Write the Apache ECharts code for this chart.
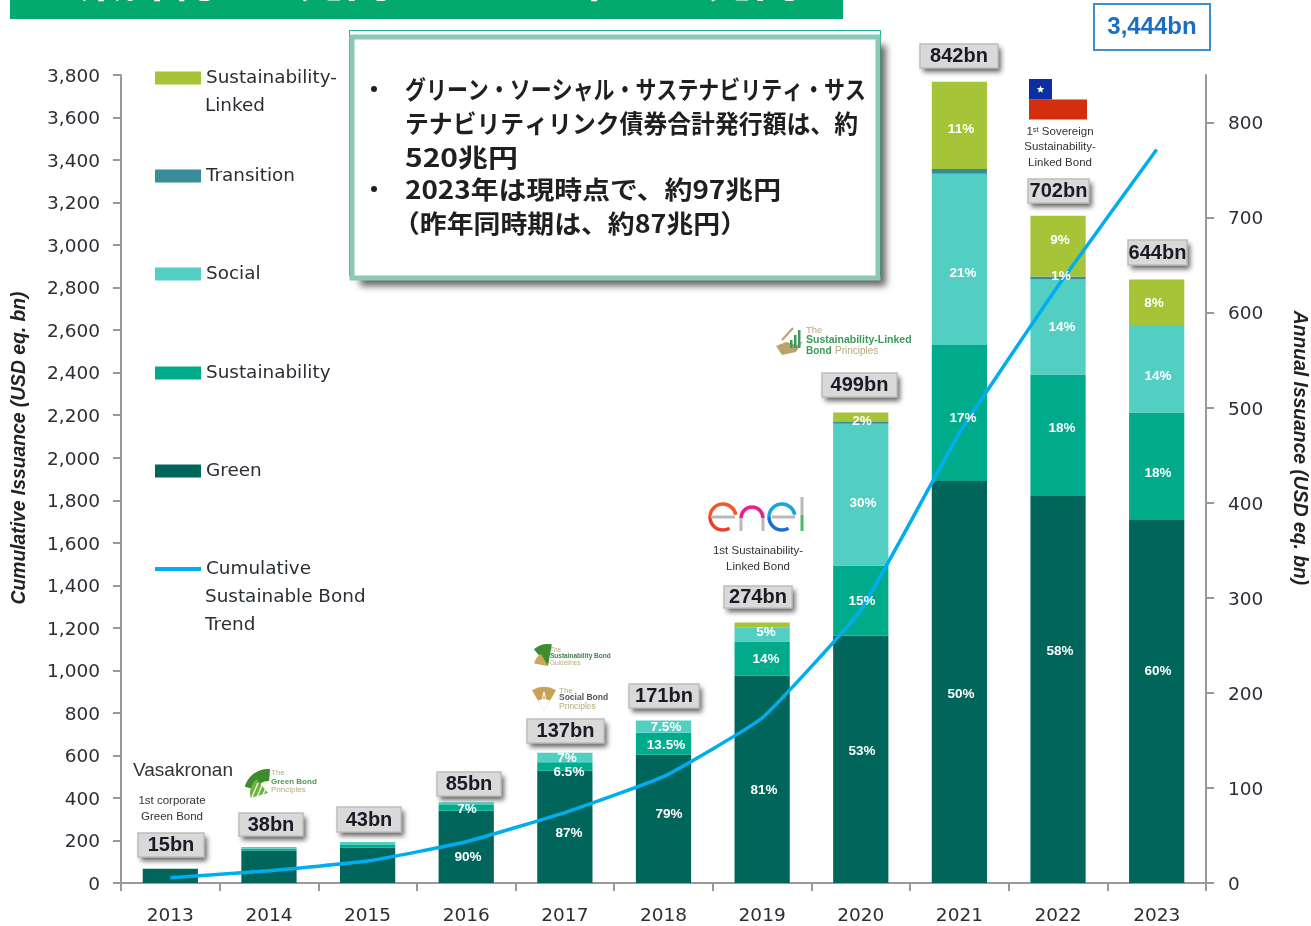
<!DOCTYPE html>
<html><head><meta charset="utf-8">
<style>html,body{margin:0;padding:0;background:#fff}#c{width:1311px;height:926px}</style>
<script src="https://cdn.jsdelivr.net/npm/echarts@6/dist/echarts.min.js"></script>
</head><body><div id="c"></div>
<script>
const years = ['2013','2014','2015','2016','2017','2018','2019','2020','2021','2022','2023'];
const green          = [15, 34, 37, 76, 118, 135, 218, 260, 423, 407, 382];
const sustainability = [0,  2,  3,  6,  9,   23,  36,  74,  143, 128, 113];
const social         = [0,  2,  3,  3,  10,  13,  15,  149, 180, 100, 92];
const transition     = [0,  0,  0,  0,  0,   0,   0,   2,   5,   3,   0];
const sustainabilityLinked = [0, 0, 0, 0, 0, 0, 5, 10, 92, 64, 48];
const cumulative = [25, 58, 103, 194, 331, 500, 776, 1284, 2116, 2808, 3450];
const leftTicks = [0,200,400,600,800,1000,1200,1400,1600,1800,2000,2200,2400,2600,2800,3000,3200,3400,3600,3800];
const rightTicks = [0,100,200,300,400,500,600,700,800];

const colors = {green:'#00665C', sust:'#00AB8C', social:'#52CEC3', trans:'#3A8C9A', sll:'#A5C437', line:'#00AEEF'};
const AXC='#999999', TXT='#2a2f35';
const SANS='"Liberation Sans", Arial, sans-serif', DJ='"DejaVu Sans", sans-serif', JP='"Noto Sans CJK JP", sans-serif';

// annotation tables: [text, x, y]
const pctLabels = [['90%',468,857],['7%',467,809],['87%',569,833],['6.5%',569,772],['7%',567,758],['79%',669,814],
 ['13.5%',666,745],['7.5%',666,727],['81%',764,790],['14%',766,659],['5%',766,632],['53%',862,751],['15%',862,601],
 ['30%',863,503],['2%',862,421],['50%',961,694],['17%',963,418],['21%',963,273],['11%',961,129],['58%',1060,651],
 ['18%',1062,428],['14%',1062,327],['1%',1061,276],['9%',1060,240],['60%',1158,671],['18%',1158,473],['14%',1158,376],['8%',1154,303]];
// [text, x0, y0, x1, y1]
const totalBoxes = [['15bn',138,833,204,857],['38bn',239,813,303,836],['43bn',337,807,401,832],['85bn',437,772,501,796],
 ['137bn',527,719,604,743],['171bn',629,684,699,708],['274bn',724,586,792,608],['499bn',822,373,897,397],
 ['842bn',920,44,998,68],['702bn',1028,179,1089,203],['644bn',1128,240,1187,265]];
// [text, x, y, size, colour, weight]
const notes = [
 ['Vasakronan',183,771,19,'#333','normal'],['1st corporate',172,801,11.5,'#333','normal'],['Green Bond',172,817,11.5,'#333','normal'],
 ['1st Sustainability-',758,551,11.5,'#333','normal'],['Linked Bond',758,567,11.5,'#333','normal'],
 ['Sustainability-',1060,147,11.5,'#333','normal'],['Linked Bond',1060,163,11.5,'#333','normal']];
// [text, x, y, size, colour, weight]
const logoText = [
 ['The',271,773,8,'#b9aa7c','normal'],['Green Bond',271,782,8,'#4d9a4f','bold'],['Principles',271,790,8,'#b9aa7c','normal'],
 ['The',550,650,6.5,'#b9aa7c','normal'],['Sustainability Bond',550,656,6.5,'#3f7f50','bold'],['Guidelines',550,663,6.5,'#b9aa7c','normal'],
 ['The',559,691,8,'#b9aa7c','normal'],['Social Bond',559,698,8.5,'#555','bold'],['Principles',559,707,8.5,'#b9aa7c','normal'],
 ['The',806,330,9.5,'#b9aa7c','normal'],['Sustainability-Linked',806,340,10.5,'#3c9a5a','bold'],['Bond',806,351,10,'#3c9a5a','bold'],['Principles',835,351,10,'#b9aa7c','normal']];
// [text, x, y, target width]
const boxLines = [['グリーン・ソーシャル・サステナビリティ・サス',405,89,461],['テナビリティリンク債券合計発行額は、約',405,123,453],
 ['520兆円',405,157,113],['2023年は現時点で、約97兆円',405,189,376],['（昨年同時期は、約87兆円）',393,223,354]];

const g = [];
const mc=document.createElement('canvas').getContext('2d');
const fitScale=(t,font,w)=>{mc.font=font;return w/mc.measureText(t).width;};
const txt=(z,x,y,text,fill,font,align,extra)=>Object.assign({type:'text',z,x,y,style:{text,fill,font,align:align||'left',verticalAlign:'middle'}},extra||{});
// banner
g.push({type:'rect',z:100,shape:{x:10,y:-5,width:833,height:24},style:{fill:'#03A96F'}});
const titleText='累計約520兆円 ー 2022年 122兆円', titleFont='bold 40px '+JP;
g.push({type:'text',z:101,x:78,y:2,scaleX:fitScale(titleText,titleFont,722),style:{text:titleText,fill:'#fff',font:titleFont,align:'left',verticalAlign:'bottom'}});
// message box
g.push({type:'rect',z:100,shape:{x:349.5,y:30.5,width:531,height:245},style:{fill:'#fff',stroke:'#19B394',lineWidth:1}});
g.push({type:'rect',z:100,shape:{x:352,y:37,width:526,height:241},style:{fill:'#fff',shadowBlur:7,shadowColor:'rgba(0,0,0,.6)',shadowOffsetX:8,shadowOffsetY:8}});
g.push({type:'rect',z:101,shape:{x:352,y:37,width:526,height:241},style:{fill:'#fff',stroke:'#8AC9B8',lineWidth:5}});
const bf='bold 25px '+JP;
boxLines.forEach(l=>g.push(txt(102,l[1],l[2],l[0],'#1f1f1f',bf,'left',{scaleX:fitScale(l[0],bf,l[3])})));
[89,189].forEach(y=>g.push({type:'circle',z:102,shape:{cx:374,cy:y,r:3},style:{fill:'#1f1f1f'}}));
// legend continuation lines
[['Linked',205,106],['Sustainable Bond',205,597],['Trend',205,625]].forEach(l=>g.push(txt(100,l[1],l[2],l[0],TXT,'18.4px '+DJ)));
// total boxes
totalBoxes.forEach(b=>{
  const shape={x:b[1],y:b[2],width:b[3]-b[1],height:b[4]-b[2]};
  g.push({type:'rect',z:103,shape,style:{fill:'#D9D9D9',shadowBlur:5,shadowColor:'rgba(0,0,0,.6)',shadowOffsetX:3,shadowOffsetY:4}});
  g.push({type:'rect',z:103,shape,style:{fill:'#D9D9D9',stroke:'#BDBDBD',lineWidth:1.5}});
  g.push(txt(104,(b[1]+b[3])/2,(b[2]+b[4])/2+.5,b[0],'#1a1a26','bold 20px '+SANS,'center'));
});
// cumulative total box
g.push({type:'rect',z:103,shape:{x:1094,y:4,width:116,height:46},style:{fill:'#fff',stroke:'#3D8FD1',lineWidth:2}});
g.push(txt(104,1152,27,'3,444bn','#1B6FC2','bold 24px '+SANS,'center'));
// percent labels
pctLabels.forEach(p=>g.push(txt(105,p[1],p[2],p[0],'#fff','bold 13.5px '+SANS,'center')));
// notes
notes.forEach(n=>g.push(txt(106,n[1],n[2],n[0],n[4],n[5]+' '+n[3]+'px '+SANS,'center')));
logoText.forEach(n=>g.push(txt(106,n[1],n[2],n[0],n[4],n[5]+' '+n[3]+'px '+SANS,'left')));
g.push({type:'text',z:106,x:1060,y:132,style:{text:'{a|1}{s|st}{a| Sovereign}',rich:{a:{font:'11.5px '+SANS,fill:'#333'},s:{font:'7.5px '+SANS,fill:'#333',verticalAlign:'top',padding:[0,0,4,0]}},align:'center',verticalAlign:'middle'}});
// Chile flag
g.push({type:'rect',z:106,shape:{x:1029,y:99.5,width:58,height:20},style:{fill:'#D32F0E'}});
g.push({type:'rect',z:106,shape:{x:1029,y:79,width:23,height:20.5},style:{fill:'#0B2FA0'}});
const starPts=[];for(let i=0;i<10;i++){const r=i%2?1.7:4,a=-Math.PI/2+i*Math.PI/5;starPts.push([1040.5+r*Math.cos(a),89.5+r*Math.sin(a)]);}
g.push({type:'polygon',z:107,shape:{points:starPts},style:{fill:'#fff'}});
// enel logo
const arc=(cx,cy,r,s,e,c,w,cw)=>g.push({type:'arc',z:106,shape:{cx,cy,r,startAngle:s,endAngle:e,clockwise:cw!==false},style:{stroke:c,lineWidth:w||3.5,fill:null}});
const line=(x1,y1,x2,y2,c,w)=>g.push({type:'line',z:106,shape:{x1,y1,x2,y2},style:{stroke:c,lineWidth:w||3.5}});
const D=Math.PI/180;
arc(723,517,13,-180*D,-10*D,'#EF5A2A');arc(723,517,13,180*D,60*D,'#E8402A',3.5,false);
line(711,517,735,517,'#B9B9B9',3);
arc(752,518,11,180*D,360*D,'#E6228C');line(741,518,741,531,'#B9B9B9',3);line(763,518,763,531,'#B9B9B9',3);
arc(782,517,13,-180*D,-10*D,'#18A7DC');arc(782,517,13,180*D,60*D,'#1C6FD0',3.5,false);
line(772,517,795,517,'#B9B9B9',3);
line(802,497,802,515,'#B9B9B9',3);line(802,515,802,531,'#49B66A',3);
// leaf / fan logos
const fan=(cx,cy,r,s,e,c)=>g.push({type:'sector',z:106,shape:{cx,cy,r,r0:0,startAngle:s*D,endAngle:e*D},style:{fill:c}});
fan(268,793,24,195,275,'#3E8C2E');fan(268,793,18,165,230,'#6DB33F');fan(268,793,12,230,285,'#fff');
[0,1,2].forEach(i=>line(252+i*5,797,258+i*5,783,'#fff',1.2));
fan(548,666,22,230,280,'#3E8C2E');fan(548,666,14,190,240,'#C9A85C');
fan(544,711,24,240,300,'#C9A25A');fan(544,711,12,240,300,'#fff');
[0,1].forEach(i=>line(540+i*8,710,544,692,'#fff',1));
g.push({type:'polygon',z:106,shape:{points:[[776,346],[786,342],[797,345],[803,341],[796,352],[782,355]]},style:{fill:'#B9A56C'}});
[[790,340,8],[794,335,13],[798,330,18]].forEach(b=>g.push({type:'rect',z:107,shape:{x:b[0],y:b[1],width:2.5,height:b[2]},style:{fill:'#3C9A5A'}}));
line(782,340,793,328,'#B9A56C',2);

const barSeries=(name,data,color)=>({name,type:'bar',stack:'total',yAxisIndex:1,data,barWidth:'56%',itemStyle:{color},z:2,silent:true});
const legendAt=(name,y,h)=>({show:true,data:[name],left:155,top:y-7,orient:'horizontal',padding:0,icon:'rect',itemWidth:46,itemHeight:h||13,itemGap:0,selectedMode:false,
  formatter:n=>({'Sustainability-Linked':'Sustainability-','Cumulative Sustainable Bond Trend':'Cumulative'})[n]||n,
  textStyle:{fontFamily:DJ,fontSize:18.4,color:TXT}});
const tickRich={a:{fontFamily:DJ,fontSize:18.5,color:TXT,padding:[4,0,0,0]}};

const option={
  animation:false,backgroundColor:'#fff',
  grid:{left:121,right:105,top:75,bottom:43,containLabel:false,outerBoundsMode:'none'},
  legend:[legendAt('Sustainability-Linked',76),legendAt('Transition',174),legendAt('Social',272),legendAt('Sustainability',371),legendAt('Green',469),legendAt('Cumulative Sustainable Bond Trend',567,4)],
  xAxis:{type:'category',data:years,boundaryGap:true,axisLine:{lineStyle:{color:AXC,width:2}},axisTick:{show:true,length:8,lineStyle:{color:AXC,width:2}},
    axisLabel:{color:TXT,fontFamily:DJ,fontSize:18.5,margin:24,interval:0}},
  yAxis:[
    {type:'value',position:'left',min:0,max:3800,interval:200,splitLine:{show:false},
     name:'Cumulative Issuance (USD eq. bn)',nameLocation:'middle',nameGap:92,nameRotate:90,
     nameTextStyle:{fontFamily:SANS,fontSize:19.3,fontWeight:'bold',fontStyle:'italic',color:'#222',padding:[0,0,0,62]},
     axisLine:{show:true,lineStyle:{color:AXC,width:2}},axisTick:{show:true,length:8,lineStyle:{color:AXC,width:2}},
     axisLabel:{margin:21,customValues:leftTicks,rich:tickRich,formatter:v=>'{a|'+Number(v).toLocaleString('en-US')+'}'}},
    {type:'value',position:'right',min:0,max:850,splitLine:{show:false},
     name:'Annual Issuance (USD eq. bn)',nameLocation:'middle',nameGap:84,nameRotate:-90,
     nameTextStyle:{fontFamily:SANS,fontSize:19.3,fontWeight:'bold',fontStyle:'italic',color:'#222',padding:[0,62,0,0]},
     axisLine:{show:true,lineStyle:{color:AXC,width:2}},axisTick:{show:true,length:8,customValues:rightTicks,lineStyle:{color:AXC,width:2}},
     axisLabel:{margin:22,customValues:rightTicks,rich:tickRich,formatter:v=>'{a|'+v+'}'}}
  ],
  series:[
    barSeries('Green',green,colors.green),
    barSeries('Sustainability',sustainability,colors.sust),
    barSeries('Social',social,colors.social),
    barSeries('Transition',transition,colors.trans),
    barSeries('Sustainability-Linked',sustainabilityLinked,colors.sll),
    {name:'Cumulative Sustainable Bond Trend',type:'line',yAxisIndex:0,data:cumulative,showSymbol:false,symbol:'none',smooth:.12,z:5,silent:true,
     lineStyle:{color:colors.line,width:3.5},itemStyle:{color:colors.line}}
  ],
  graphic:{elements:g}
};
echarts.init(document.getElementById('c')).setOption(option);
</script></body></html>
